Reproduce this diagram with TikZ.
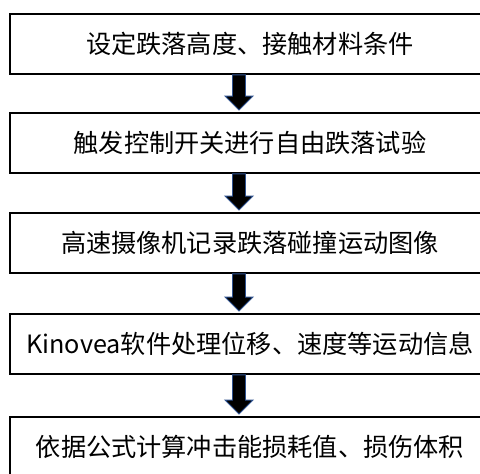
\documentclass[tikz,border=0pt]{standalone}
\usepackage{fontspec}
\setmainfont{Noto Sans CJK SC}
\usetikzlibrary{calc}
\definecolor{arrowblue}{HTML}{2F528F}
\newcommand\flowarrow[2]{%
  \draw[bigarrow] ($(#1.south)+(-17.5,0)$) -- ($(#1.south)+(-4.5,0)$)
    -- ($(#2.north)+(-4.5,16)$) -- ($(#2.north)+(3,16)$)
    -- ($(#2.north)+(-11,2)$) -- ($(#2.north)+(-25,16)$)
    -- ($(#2.north)+(-17.5,16)$) -- cycle;}
\begin{document}
\begin{tikzpicture}[x=1pt,y=1pt,
  box/.style={draw=black, line width=1.8pt, minimum width=480pt, minimum height=60pt,
    inner sep=0pt, font=\fontsize{25.2}{29}\selectfont},
  bigarrow/.style={draw=arrowblue, line width=0.9pt, fill=black, line join=miter}]
\useasboundingbox (0,0) rectangle (480,474);
\node[box] (s1) at (250,430) {设定跌落高度、接触材料条件};
\node[box] (s2) at (250,331) {触发控制开关进行自由跌落试验};
\node[box] (s3) at (250,231) {高速摄像机记录跌落碰撞运动图像};
\node[box] (s4) at (250,130) {Kinovea软件处理位移、速度等运动信息};
\node[box] (s5) at (250,27) {依据公式计算冲击能损耗值、损伤体积};
\flowarrow{s1}{s2}
\flowarrow{s2}{s3}
\flowarrow{s3}{s4}
\flowarrow{s4}{s5}
\end{tikzpicture}
\end{document}
